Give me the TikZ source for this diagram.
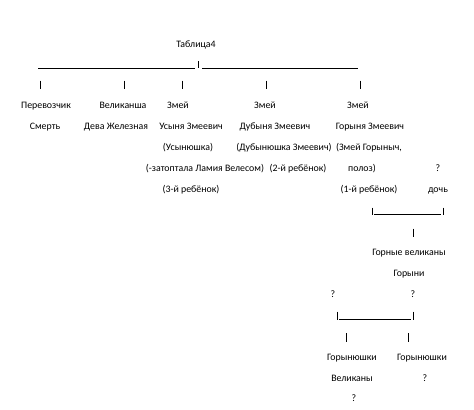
\documentclass[tikz,border=0pt]{standalone}
\usepackage{fontspec}
\setmainfont{Carlito}
\begin{document}
\begin{tikzpicture}[x=1bp,y=-1bp,
  txt/.style={inner sep=0pt, anchor=base, font=\fontsize{9.9}{11}\selectfont, text=black},
  ln/.style={line width=0.8bp, black}]
\useasboundingbox (0,0) rectangle (474,409);
% title
\node[txt] (title) at (196,47.5) {Таблица4};
% top bar
\coordinate (tl) at (38,68); \coordinate (tm1) at (195,68);
\coordinate (tm2) at (202,68); \coordinate (tr) at (358,68);
\coordinate (tpa) at (198,61); \coordinate (tpb) at (198,68);
\draw[ln] (tl) -- (tm1);
\draw[ln] (tm2) -- (tr);
\draw[ln] (tpa) -- (tpb);
% pipes
\foreach \n/\x in {p1/40,p2/124,p3/182,p4/266,p5/360}{
  \coordinate (\n a) at (\x,80.5); \coordinate (\n b) at (\x,89);
  \draw[ln] (\n a) -- (\n b);
}
% row 1
\node[txt] (a1) at (46,108.5) {Перевозчик};
\node[txt] (b1) at (123,108.5) {Великанша};
\node[txt] (c1) at (178,108.5) {Змей};
\node[txt] (d1) at (265,108.5) {Змей};
\node[txt] (e1) at (358,108.5) {Змей};
% row 2
\node[txt] (a2) at (45,129.5) {Смерть};
\node[txt] (b2) at (116,129.5) {Дева Железная};
\node[txt] (c2) at (191,129.5) {Усыня Змеевич};
\node[txt] (d2) at (275,129.5) {Дубыня Змеевич};
\node[txt] (e2) at (370,129.5) {Горыня Змеевич};
% row 3
\node[txt] (c3) at (188,150.5) {(Усынюшка)};
\node[txt] (d3) at (284,150.5) {(Дубынюшка Змеевич)};
\node[txt] (e3) at (369,150.5) {(Змей Горыныч,};
% row 4
\node[txt] (c4) at (205,171.5) {(-затоптала Ламия Велесом)};
\node[txt] (d4) at (298,171.5) {(2-й ребёнок)};
\node[txt] (e4) at (362,171.5) {полоз)};
\node[txt] (f4) at (438,171.5) {?};
% row 5
\node[txt] (c5) at (191,192.5) {(3-й ребёнок)};
\node[txt] (e5) at (369,192.5) {(1-й ребёнок)};
\node[txt] (f5) at (438,192.5) {дочь};
% bracket 1
\coordinate (b1la) at (372,207.5); \coordinate (b1lb) at (372,215);
\coordinate (b1ra) at (443,207.5); \coordinate (b1rb) at (443,215);
\coordinate (b1s) at (374,214.3); \coordinate (b1e) at (441,214.3);
\draw[ln] (b1la) -- (b1lb);
\draw[ln] (b1ra) -- (b1rb);
\draw[ln] (b1s) -- (b1e);
\coordinate (m1a) at (413,228.5); \coordinate (m1b) at (413,236.5);
\draw[ln] (m1a) -- (m1b);
% giants
\node[txt] (g1) at (409,255.5) {Горные великаны};
\node[txt] (g2) at (409,276.5) {Горыни};
\node[txt] (q1) at (333,297.5) {?};
\node[txt] (q2) at (413,297.5) {?};
% bracket 2
\coordinate (b2la) at (337,311.5); \coordinate (b2lb) at (337,320);
\coordinate (b2ra) at (413,311.5); \coordinate (b2rb) at (413,320);
\coordinate (b2s) at (339,319.3); \coordinate (b2e) at (411,319.3);
\draw[ln] (b2la) -- (b2lb);
\draw[ln] (b2ra) -- (b2rb);
\draw[ln] (b2s) -- (b2e);
\coordinate (m2a) at (346,333); \coordinate (m2b) at (346,341.5);
\coordinate (m3a) at (408,333); \coordinate (m3b) at (408,341.5);
\draw[ln] (m2a) -- (m2b);
\draw[ln] (m3a) -- (m3b);
% bottom
\node[txt] (h1) at (352,360.5) {Горынюшки};
\node[txt] (h2) at (422,360.5) {Горынюшки};
\node[txt] (h3) at (352,381.5) {Великаны};
\node[txt] (h4) at (425,381.5) {?};
\node[txt] (h5) at (354,401.5) {?};
\end{tikzpicture}
\end{document}
